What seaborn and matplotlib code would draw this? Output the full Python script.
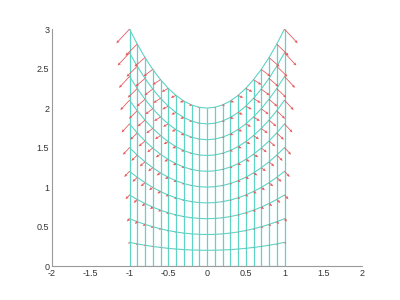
import matplotlib
matplotlib.use("Agg")
import matplotlib.pyplot as plt
import seaborn as sns
import numpy as np

# mesh columns (x positions) and their top heights
x_cols = [-1.0, -0.9, -0.8, -0.7, -0.6, -0.5, -0.4, -0.3, -0.2, -0.1, 0.0,
          0.1, 0.2, 0.3, 0.4, 0.5, 0.6, 0.7, 0.8, 0.9, 1.0]
top_heights = [3.0, 2.81, 2.64, 2.49, 2.36, 2.25, 2.16, 2.09, 2.04, 2.01, 2.0,
               2.01, 2.04, 2.09, 2.16, 2.25, 2.36, 2.49, 2.64, 2.81, 3.0]
# fractions of the top height at which the horizontal mesh curves sit
levels = [0.0, 0.1, 0.2, 0.3, 0.4, 0.5, 0.6, 0.7, 0.8, 0.9, 1.0]

# arrow components: per-column factors and per-level factors
arrow_u_col = [-0.17, -0.153, -0.136, -0.119, -0.102, -0.085, -0.068, -0.051, -0.034, -0.017, 0.0,
               0.017, 0.034, 0.051, 0.068, 0.085, 0.102, 0.119, 0.136, 0.153, 0.17]
arrow_v_col = [-0.18, -0.146, -0.115, -0.088, -0.065, -0.045, -0.029, -0.016, -0.007, -0.002, 0.0,
               -0.002, -0.007, -0.016, -0.029, -0.045, -0.065, -0.088, -0.115, -0.146, -0.18]
arrow_level = [0.0, 0.1, 0.2, 0.3, 0.4, 0.5, 0.6, 0.7, 0.8, 0.9, 1.0]

sns.set_style("white")
plt.rcParams['font.family'] = ['Liberation Sans', 'DejaVu Sans']

fig = plt.figure(figsize=(4, 3), dpi=100)
ax = fig.add_axes([0.13, 0.113, 0.775, 0.79])

mesh_color = "#5fd3c4"
X = np.array(x_cols)
H = np.array(top_heights)

# vertical mesh lines
vl = ax.vlines(X, 0.0, H, colors=mesh_color, lw=0.9, zorder=2)
vl.set_snap(True)
# horizontal mesh curves
for lv in levels:
    sns.lineplot(x=X, y=lv * H, color=mesh_color, lw=0.8,
                 estimator=None, sort=False, ax=ax, zorder=2)

# arrows at grid points (skip zero-length ones)
qx, qy, qu, qv = [], [], [], []
for lv, al in zip(levels, arrow_level):
    for xi, hi, uc, vc in zip(x_cols, top_heights, arrow_u_col, arrow_v_col):
        u, v = uc * al, vc * al
        if abs(u) + abs(v) < 1e-9:
            continue
        qx.append(xi); qy.append(lv * hi)
        qu.append(u); qv.append(v)
ax.quiver(qx, qy, qu, qv, angles="xy", scale_units="xy", scale=1,
          color="#e8585c", width=0.0026, headwidth=3.5, headlength=4,
          headaxislength=3.5, minlength=0, zorder=3)

ax.set_xlim(-2, 2)
ax.set_ylim(0, 3)
ax.set_xticks([-2, -1.5, -1, -0.5, 0, 0.5, 1, 1.5, 2])
ax.set_xticklabels(["-2", "-1.5", "-1", "-0.5", "0", "0.5", "1", "1.5", "2"])
ax.set_yticks([0, 0.5, 1, 1.5, 2, 2.5, 3])
ax.set_yticklabels(["0", "0.5", "1", "1.5", "2", "2.5", "3"])
ax.set_xlabel(""); ax.set_ylabel("")
for s in ["top", "right"]:
    ax.spines[s].set_visible(False)
for s in ["left", "bottom"]:
    ax.spines[s].set_color("#9a9a9a")
    ax.spines[s].set_linewidth(0.8)
ax.tick_params(direction="in", length=3, width=0.6, color="#9a9a9a",
               labelsize=6.5, labelcolor="#333333", pad=2)

fig.savefig("out.png", dpi=100)
